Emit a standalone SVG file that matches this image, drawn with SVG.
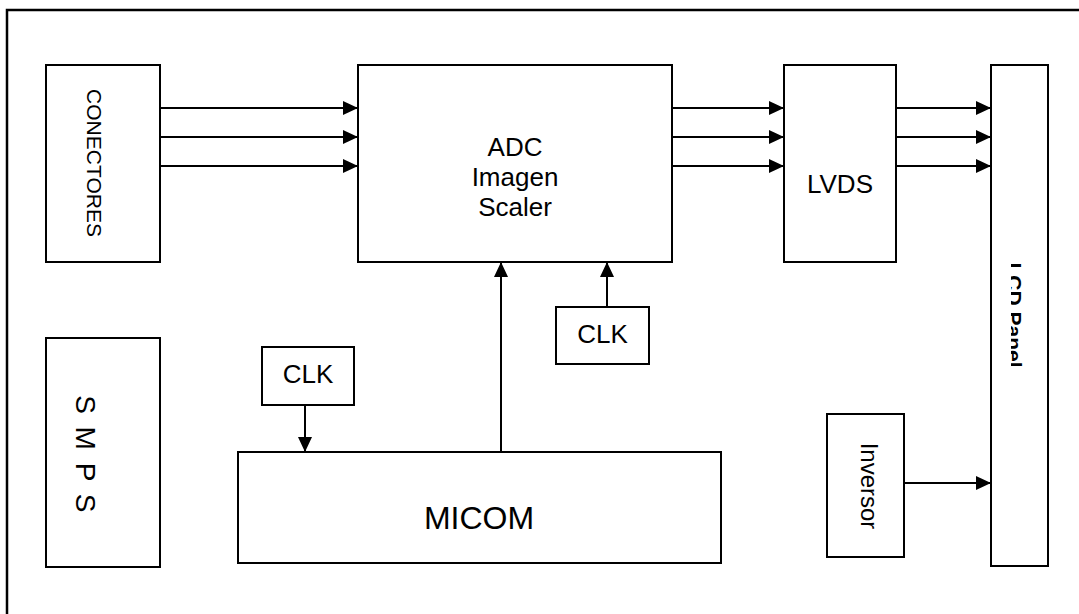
<svg xmlns="http://www.w3.org/2000/svg" width="1079" height="614" viewBox="0 0 1079 614">
<style>
.box{fill:#fff;stroke:#000;stroke-width:2}
.t{font-family:"Liberation Sans",Arial,sans-serif;fill:#000;text-anchor:middle}
.c{stroke:#000;stroke-width:2;fill:none;marker-end:url(#ah)}
</style>
<defs>
<marker id="ah" markerUnits="userSpaceOnUse" markerWidth="16" markerHeight="14" refX="15" refY="7" orient="auto">
<path d="M0,0 L15,7 L0,14 Z" fill="#000"/>
</marker>
<clipPath id="lcdclip"><rect x="1011" y="66" width="36" height="499"/></clipPath>
</defs>
<rect x="0" y="0" width="1079" height="614" fill="#fff"/>
<rect x="7" y="10" width="1200" height="800" fill="none" stroke="#000" stroke-width="2.5"/>

<g id="conectores">
<rect class="box" x="46" y="65" width="114" height="197"/>
<text class="t" font-size="21" transform="translate(94,163) rotate(90)" y="7.5">CONECTORES</text>
</g>
<g id="adc">
<rect class="box" x="358" y="65" width="314" height="197"/>
<text class="t" font-size="26" x="515" y="156">ADC</text>
<text class="t" font-size="26" x="515" y="186">Imagen</text>
<text class="t" font-size="26" x="515" y="216">Scaler</text>
</g>
<g id="lvds">
<rect class="box" x="784" y="65" width="112" height="197"/>
<text class="t" font-size="26" x="840" y="193">LVDS</text>
</g>
<g id="lcd">
<rect class="box" x="991" y="65" width="57" height="501"/>
<g clip-path="url(#lcdclip)">
<text class="t" font-size="21" font-weight="bold" transform="translate(1007,315) rotate(90)" y="0">LCD Panel</text>
</g>
</g>
<g id="smps">
<rect class="box" x="46" y="338" width="114" height="229"/>
<text class="t" font-size="28" letter-spacing="2.5" transform="translate(86,455) rotate(90)" y="10">S M P S</text>
</g>
<g id="clk1">
<rect class="box" x="262" y="347" width="92" height="58"/>
<text class="t" font-size="26" x="308" y="383">CLK</text>
</g>
<g id="clk2">
<rect class="box" x="556" y="307" width="93" height="57"/>
<text class="t" font-size="26" x="602.5" y="343">CLK</text>
</g>
<g id="micom">
<rect class="box" x="238" y="452" width="483" height="111"/>
<text class="t" font-size="32" x="479" y="529">MICOM</text>
</g>
<g id="inversor">
<rect class="box" x="827" y="414" width="77" height="143"/>
<text class="t" font-size="24" transform="translate(869,486) rotate(90)" y="8.5">Inversor</text>
</g>

<g id="connectors">
<line class="c" x1="160" y1="108" x2="358" y2="108"/>
<line class="c" x1="160" y1="137" x2="358" y2="137"/>
<line class="c" x1="160" y1="166" x2="358" y2="166"/>
<line class="c" x1="672" y1="108" x2="784" y2="108"/>
<line class="c" x1="672" y1="137" x2="784" y2="137"/>
<line class="c" x1="672" y1="166" x2="784" y2="166"/>
<line class="c" x1="896" y1="108" x2="991" y2="108"/>
<line class="c" x1="896" y1="137" x2="991" y2="137"/>
<line class="c" x1="896" y1="166" x2="991" y2="166"/>
<line class="c" x1="501" y1="452" x2="501" y2="262"/>
<line class="c" x1="607" y1="307" x2="607" y2="262"/>
<line class="c" x1="305" y1="405" x2="305" y2="452"/>
<line class="c" x1="904" y1="483" x2="991" y2="483"/>
</g>
</svg>
